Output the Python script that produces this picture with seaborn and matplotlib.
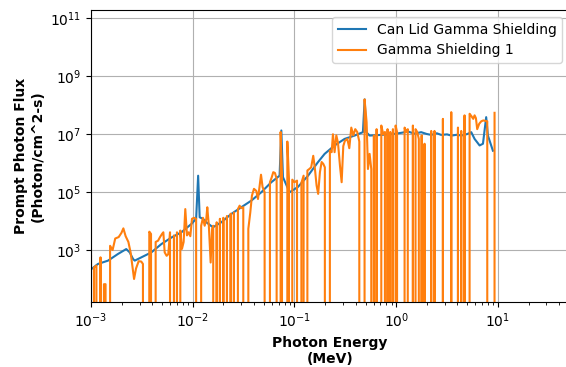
import matplotlib
matplotlib.use("Agg")
import matplotlib.pyplot as plt
import matplotlib.ticker as mticker
import numpy as np
import pandas as pd
import seaborn as sns

# Can lid gamma shielding: prompt photon flux spectrum
can_lid_energy = [
    1.01e-3, 1.17e-3, 1.47e-3, 1.84e-3, 2.22e-3, 2.40e-3, 2.59e-3, 2.69e-3,
    3.13e-3, 3.92e-3, 4.91e-3, 6.17e-3, 7.73e-3, 9.68e-3, 1.08e-2, 1.13e-2,
    1.17e-2, 1.26e-2, 1.36e-2, 1.58e-2, 1.91e-2, 2.39e-2, 3.00e-2, 3.77e-2,
    4.72e-2, 5.92e-2, 7.14e-2, 7.43e-2, 7.71e-2, 8.95e-2, 1.08e-1, 1.36e-1,
    1.70e-1, 1.98e-1, 2.48e-1, 3.11e-1, 3.90e-1, 4.71e-1, 4.90e-1, 5.08e-1,
    5.48e-1, 7.13e-1, 9.64e-1, 1.12, 1.31, 1.51, 1.76, 2.00, 2.21, 2.51,
    2.77, 3.16, 3.48, 3.98, 4.36, 5.01, 5.47, 5.90, 6.61, 7.13, 7.67, 7.98,
    8.93,
]
can_lid_flux = [
    2.2e2, 3.3e2, 4.3e2, 7.3e2, 1.08e3, 8.3e2, 4.9e2, 4.3e2,
    5.6e2, 8.3e2, 1.6e3, 2.7e3, 4.1e3, 7.9e3, 1.2e4, 3.7e5,
    1.35e4, 1.2e4, 9.1e3, 6.1e3, 9.1e3, 1.76e4, 3.0e4, 5.1e4,
    9.9e4, 2.2e5, 3.7e5, 1.35e7, 3.3e5, 9.9e4, 1.5e5, 3.7e5,
    1.08e6, 2.1e6, 4.1e6, 6.9e6, 9.0e6, 1.18e7, 1.6e8, 1.18e7,
    9.0e6, 9.5e6, 1.03e7, 1.12e7, 1.24e7, 1.05e7, 1.18e7, 1.02e7, 9.5e6, 1.08e7,
    9.5e6, 9.9e6, 9.0e6, 9.6e6, 9.0e6, 1.02e7, 1.18e7, 6.9e6, 4.1e6, 4.7e6,
    3.9e7, 9.0e6,
    2.7e6,
]

# Gamma shielding 1: prompt photon flux spectrum (zero where no tally)
shield1_energy = [
    1.00e-3, 1.03e-3, 1.07e-3, 1.13e-3, 1.17e-3, 1.24e-3, 1.28e-3, 1.34e-3,
    1.39e-3, 1.44e-3, 1.54e-3, 1.63e-3, 1.73e-3, 1.87e-3, 1.99e-3, 2.08e-3,
    2.19e-3, 2.33e-3, 2.45e-3, 2.55e-3, 2.65e-3, 2.77e-3, 2.94e-3, 3.12e-3,
    3.24e-3, 3.32e-3, 3.58e-3, 3.74e-3, 3.89e-3, 3.98e-3, 4.16e-3, 4.32e-3,
    4.56e-3, 4.77e-3, 4.99e-3, 5.14e-3, 5.30e-3, 5.54e-3, 5.75e-3, 5.98e-3,
    6.11e-3, 6.35e-3, 6.54e-3, 6.69e-3, 7.00e-3, 7.22e-3, 7.55e-3, 7.84e-3,
    8.14e-3, 8.45e-3, 8.78e-3, 9.12e-3, 9.47e-3, 9.83e-3, 1.03e-2, 1.08e-2,
    1.11e-2, 1.16e-2, 1.21e-2, 1.26e-2, 1.31e-2, 1.36e-2, 1.39e-2, 1.44e-2,
    1.50e-2, 1.55e-2, 1.59e-2, 1.64e-2, 1.72e-2, 1.77e-2, 1.85e-2, 1.91e-2,
    2.00e-2, 2.06e-2, 2.17e-2, 2.24e-2, 2.36e-2, 2.43e-2, 2.54e-2, 2.64e-2,
    2.78e-2, 2.89e-2, 3.00e-2, 3.14e-2, 3.24e-2, 3.39e-2, 3.52e-2, 3.68e-2,
    3.82e-2, 4.00e-2, 4.22e-2, 4.38e-2, 4.55e-2, 4.69e-2, 4.86e-2, 5.09e-2,
    5.29e-2, 5.53e-2, 5.74e-2, 5.97e-2, 6.19e-2, 6.43e-2, 6.68e-2, 6.88e-2,
    7.15e-2, 7.31e-2, 7.54e-2, 7.89e-2, 8.25e-2, 8.51e-2, 8.83e-2, 9.17e-2,
    9.52e-2, 1.00e-1, 1.06e-1, 1.11e-1, 1.17e-1, 1.23e-1, 1.28e-1, 1.34e-1,
    1.40e-1, 1.46e-1, 1.53e-1, 1.59e-1, 1.65e-1, 1.71e-1, 1.78e-1, 1.85e-1,
    1.92e-1, 1.99e-1, 2.07e-1, 2.15e-1, 2.23e-1, 2.32e-1, 2.39e-1, 2.48e-1,
    2.58e-1, 2.68e-1, 2.80e-1, 2.91e-1, 3.02e-1, 3.13e-1, 3.31e-1, 3.46e-1,
    3.62e-1, 3.79e-1, 3.96e-1, 4.14e-1, 4.34e-1, 4.50e-1, 4.71e-1, 4.89e-1,
    5.12e-1, 5.28e-1, 5.48e-1, 5.69e-1, 5.86e-1, 6.04e-1, 6.23e-1, 6.42e-1,
    6.62e-1, 6.92e-1, 7.14e-1, 7.46e-1, 7.75e-1, 7.99e-1, 8.23e-1, 8.49e-1,
    8.75e-1, 9.01e-1, 9.29e-1, 9.57e-1, 9.87e-1, 1.02, 1.05, 1.12,
    1.21, 1.26, 1.30, 1.34, 1.41, 1.46, 1.49, 1.55,
    1.61, 1.67, 1.72, 1.78, 1.83, 1.90, 1.96, 2.05,
    2.21, 2.28, 2.38, 2.46, 2.57, 2.88, 2.97, 3.23,
    3.48, 3.59, 3.75, 4.05, 4.17, 4.36, 4.50, 4.70,
    4.85, 5.07, 5.27, 5.47, 5.72, 5.90, 6.08, 6.26,
    6.55, 6.86, 7.18, 7.51, 7.86, 8.10, 8.73, 9.27,
]
shield1_flux = [
    6.0e2, 0.0, 2.5e2, 2.9e2, 0.0, 5.6e2, 0.0, 6.6e1,
    6.6e1, 0.0, 1.4e3, 1.0e3, 2.5e3, 2.8e3, 3.9e3, 5.6e3,
    3.0e3, 1.9e3, 8.3e2, 2.9e2, 1.0e2, 2.3e2, 4.1e2, 4.0e2,
    3.3e2, 0.0, 0.0, 4.3e3, 3.6e3, 0.0, 0.0, 1.9e3,
    2.1e3, 2.8e3, 3.6e3, 4.1e3, 8.3e2, 6.3e2, 7.2e2, 4.1e3,
    0.0, 0.0, 3.2e3, 0.0, 4.1e3, 0.0, 4.7e3, 1.1e3,
    1.9e3, 2.6e4, 3.2e3, 4.1e3, 3.0e3, 1.2e4, 1.3e4, 1.2e4,
    0.0, 0.0, 6.9e3, 1.3e4, 6.9e3, 1.2e4, 3.0e4, 6.9e3,
    3.7e2, 5.4e3, 6.9e3, 0.0, 9.1e3, 0.0, 1.2e4, 0.0,
    1.3e4, 0.0, 1.5e4, 0.0, 1.8e4, 0.0, 2.0e4, 0.0,
    2.6e4, 3.4e4, 2.8e4, 3.0e4, 0.0, 0.0, 5.4e3, 2.0e4,
    7.6e4, 1.3e5, 1.1e5, 5.8e4, 1.7e5, 4.0e5, 1.5e5, 1.0e5,
    0.0, 0.0, 2.2e5, 3.2e5, 4.9e5, 4.6e5, 2.9e5, 0.0,
    0.0, 1.2e7, 4.0e5, 0.0, 0.0, 5.6e6, 2.9e5, 0.0,
    2.7e5, 2.2e5, 2.5e5, 0.0, 2.1e5, 3.7e5, 0.0, 5.6e5,
    6.3e5, 7.2e5, 1.8e6, 6.3e5, 1.7e5, 8.7e4, 4.9e5, 1.1e6,
    9.5e5, 7.2e5, 0.0, 0.0, 2.7e6, 2.4e6, 1.0e7, 2.4e6,
    9.1e6, 5.0e6, 8.3e5, 2.2e5, 3.9e6, 5.9e6, 6.9e6, 3.3e6,
    1.7e7, 9.1e6, 1.5e7, 1.2e7, 5.6e6, 0.0, 0.0, 1.6e8,
    2.6e7, 6.3e5, 2.1e6, 6.3e5, 0.0, 9.1e6, 0.0, 1.5e7,
    0.0, 0.0, 2.0e7, 1.0e7, 1.2e7, 0.0, 1.5e7, 0.0,
    1.2e7, 0.0, 1.5e7, 0.0, 2.0e7, 1.2e7, 0.0, 0.0,
    1.7e7, 1.2e7, 1.5e7, 0.0, 0.0, 2.0e7, 0.0, 1.5e7,
    1.2e7, 6.9e6, 0.0, 9.1e6, 0.0, 4.7e6, 0.0, 0.0,
    1.3e7, 0.0, 1.3e7, 0.0, 0.0, 3.4e7, 0.0, 0.0,
    5.8e7, 0.0, 0.0, 1.7e7, 0.0, 1.3e7, 0.0, 4.5e7,
    0.0, 0.0, 5.1e7, 4.3e7, 3.4e7, 4.5e7, 3.6e7, 1.5e7,
    2.3e7, 2.8e7, 3.0e7, 2.9e7, 2.8e7, 0.0, 0.0, 5.5e7,
]

can_lid = pd.DataFrame({"energy": can_lid_energy, "flux": can_lid_flux})
shield1 = pd.DataFrame({"energy": shield1_energy, "flux": shield1_flux})

fig = plt.figure(figsize=(5.66, 3.67), dpi=100)
ax = fig.add_axes([0.1608, 0.1771, 0.8445, 0.7956])

sns.lineplot(data=can_lid, x="energy", y="flux", ax=ax, color="#1f77b4",
             linewidth=1.5, estimator=None, sort=False,
             label="Can Lid Gamma Shielding")
sns.lineplot(data=shield1, x="energy", y="flux", ax=ax, color="#ff7f0e",
             linewidth=1.5, estimator=None, sort=False,
             label="Gamma Shielding 1")

ax.set_xscale("log")
ax.set_yscale("log")
ax.set_xlim(1e-3, 50)
ax.set_ylim(16, 1.96e11)
ax.set_yticks([1e3, 1e5, 1e7, 1e9, 1e11])
ax.yaxis.set_minor_locator(mticker.NullLocator())
ax.grid(True, which="major", color="#b0b0b0", linewidth=0.8)

ax.set_xlabel("Photon Energy\n(MeV)", fontweight="bold", fontsize=10)
ax.set_ylabel("Prompt Photon Flux\n(Photon/cm^2-s)", fontweight="bold",
              fontsize=10)
ax.legend(loc="upper right", fontsize=10)

fig.savefig("out.png", dpi=100)
